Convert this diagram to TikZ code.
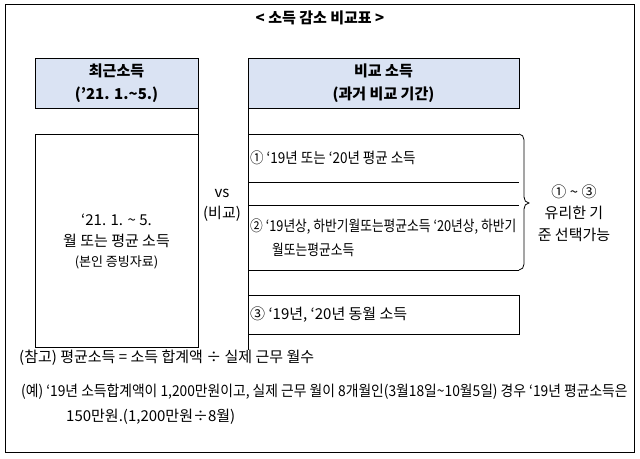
\documentclass[tikz,border=0pt]{standalone}
\usepackage{fontspec}
\setmainfont{Noto Sans CJK KR}
\begin{document}
\begin{tikzpicture}[x=1pt,y=-1pt,
  box/.style={draw=black,line width=0.8pt},
  hdr/.style={draw=black,line width=0.8pt,fill=hdrblue},
  txt/.style={font=\fontsize{15}{17}\selectfont,inner sep=0pt},
  ]
\definecolor{hdrblue}{HTML}{DAE3F3}
\useasboundingbox (0,0) rectangle (640,458);
\fill[white] (0,0) rectangle (640,458);
\node[font=\fontsize{15}{17}\selectfont\bfseries,inner sep=0pt] (title) at (320,18) {< 소득 감소 비교표 >};
\draw[line width=0.8pt] (5,4) rectangle (634,452);
% left column
\draw[hdr] (35,58) rectangle (198,108);
\node[txt,align=center,font=\fontsize{15}{23}\selectfont\bfseries] (lh) at (116.5,83) {최근소득\\(’21. 1.\textasciitilde 5.)};
\draw[box] (35,134) rectangle (198,347);
\draw[line width=0.8pt] (198,108) -- (198,134);
\node[txt] (l1) at (116.5,220) {‘21. 1. \textasciitilde\ 5.};
\node[txt] (l2) at (116.5,241) {월 또는 평균 소득};
\node[txt,font=\fontsize{13}{15}\selectfont] (l3) at (116.5,262) {(본인 증빙자료)};
% vs
\node[txt] (vs) at (222,193) {vs};
\node[txt] (vs2) at (222,214) {(비교)};
% right column
\draw[hdr] (248,58) rectangle (519,108);
\node[txt,align=center,font=\fontsize{15}{23}\selectfont\bfseries] (rh) at (383.5,83) {비교 소득\\(과거 비교 기간)};
\draw[line width=0.8pt] (248,108) -- (248,350);
\draw[line width=0.8pt] (248,134) -- (519,134);
\draw[line width=0.8pt] (248,182) -- (519,182);
\draw[line width=0.8pt] (248,205) -- (519,205);
\draw[line width=0.8pt] (248,270) -- (519,270);
\draw[line width=0.8pt] (519,134) to[out=0,in=90] (524,140) -- (524,197) to[out=270,in=180] (529,203) to[out=180,in=90] (524,209) -- (524,264) to[out=270,in=0] (519,270);
\draw[box] (248,295) rectangle (519,334);
\node[txt,anchor=west] (r1) at (250,158) {\scalebox{0.9}[1]{① ‘19년 또는 ‘20년 평균 소득}};
\node[txt,anchor=west] (r2) at (250,227) {\scalebox{0.85}[1]{② ‘19년상, 하반기월또는평균소득 ‘20년상, 하반기}};
\node[txt,anchor=west] (r2b) at (272,250) {\scalebox{0.85}[1]{월또는평균소득}};
\node[txt,anchor=west] (r3) at (250,315) {③ ‘19년, ‘20년 동월 소득};
\node[txt] (c1) at (574,192) {① \textasciitilde\ ③};
\node[txt] (c2) at (574,213) {유리한 기};
\node[txt] (c3) at (574,235) {준 선택가능};
% notes
\node[txt,anchor=west] (n1) at (19,358) {(참고) 평균소득 = 소득 합계액 ÷ 실제 근무 월수};
\node[txt,anchor=west] (n2) at (21,392) {\scalebox{0.92}[1]{(예) ‘19년 소득합계액이 1,200만원이고, 실제 근무 월이 8개월인(3월18일\textasciitilde 10월5일) 경우 ‘19년 평균소득은}};
\node[txt,anchor=west] (n3) at (66,417) {150만원.(1,200만원÷8월)};
\end{tikzpicture}
\end{document}
